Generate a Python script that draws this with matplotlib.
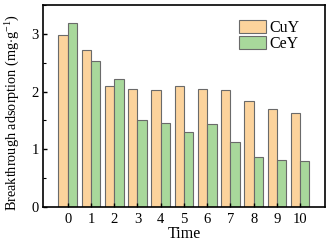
import numpy as np
import matplotlib
matplotlib.use("Agg")
import matplotlib.pyplot as plt
from matplotlib.ticker import MultipleLocator

plt.rcParams['font.family'] = ['Liberation Serif', 'DejaVu Serif']
plt.rcParams['mathtext.fontset'] = 'custom'
plt.rcParams['mathtext.rm'] = 'Liberation Serif'

# data
times = ["0", "1", "2", "3", "4", "5", "6", "7", "8", "9", "10"]
cuy = [2.98, 2.72, 2.10, 2.04, 2.02, 2.10, 2.04, 2.02, 1.83, 1.70, 1.63]
cey = [3.19, 2.52, 2.21, 1.50, 1.45, 1.30, 1.43, 1.12, 0.87, 0.81, 0.80]

x = np.arange(len(times))
w = 0.4

fig = plt.figure(figsize=(3.29, 2.45), dpi=100)
ax = fig.add_axes([0.131, 0.155, 0.857, 0.825])

ax.bar(x - w / 2, cuy, w, color="#fcd39c", edgecolor="#6a6a6a", linewidth=0.8, label="CuY")
ax.bar(x + w / 2, cey, w, color="#a8d89b", edgecolor="#6a6a6a", linewidth=0.8, label="CeY")

ax.set_xlim(-1.06, 11.07)
ax.set_ylim(0, 3.5)
ax.set_xticks(x)
ax.set_xticklabels(times)
ax.yaxis.set_major_locator(MultipleLocator(1))
ax.yaxis.set_minor_locator(MultipleLocator(0.5))
ax.tick_params(direction="in", labelsize=10.5, length=3, width=1, pad=3)
ax.tick_params(axis="x", pad=4.5)
ax.tick_params(which="minor", direction="in", length=2, width=0.8)
for s in ax.spines.values():
    s.set_linewidth(1.2)

ax.set_xlabel("Time", fontsize=11.5, labelpad=0)
ax.set_ylabel(r"Breakthrough adsorption (mg$\cdot$g$^{-1}$)", fontsize=10.3)
ax.yaxis.set_label_coords(-0.08, 0.47)

ax.legend(loc="upper right", bbox_to_anchor=(0.91, 0.925), frameon=False, fontsize=11.5,
          handlelength=1.7, handleheight=0.85, handletextpad=0.2, labelspacing=0.0,
          borderaxespad=0, borderpad=0)

fig.savefig("out.png", dpi=100)
